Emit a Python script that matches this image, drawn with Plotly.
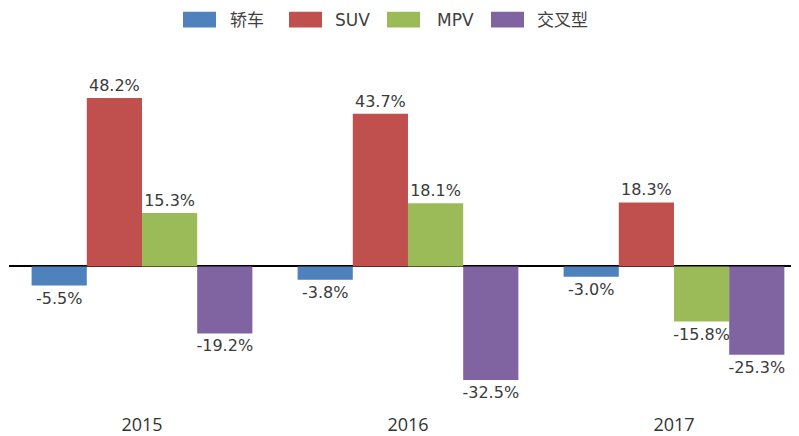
import plotly.graph_objects as go

years = ["2015", "2016", "2017"]
series_names = ["轿车", "SUV", "MPV", "交叉型"]
sedan = [-5.5, -3.8, -3.0]
suv = [48.2, 43.7, 18.3]
mpv = [15.3, 18.1, -15.8]
crossover = [-19.2, -32.5, -25.3]
colors = ["#4F81BD", "#C0504D", "#9BBB59", "#8064A2"]

# page body has an 8px margin; figure sized so that it fits the 799x436 window
W, H = 791, 428
ML, MR, MT, MB = 1, 0, 44, 18
PW, PH = W - ML - MR, H - MT - MB

def paper_x(sx):
    return (sx - 8 - ML) / PW

def paper_y(sy):
    return (H - MB + 8 - sy) / PH

fig = go.Figure()
for name, vals, col in zip(series_names, [sedan, suv, mpv, crossover], colors):
    fig.add_trace(go.Bar(
        x=years, y=vals, name=name, marker=dict(color=col, line=dict(width=0)),
        text=[f"{v:.1f}%" for v in vals], textposition="outside",
        textfont=dict(family="DejaVu Sans", size=16, color="#3a3a3a"),
        constraintext="none",
        cliponaxis=False, showlegend=False,
    ))

# legend drawn as swatches + text
legend_swatch_x = [183, 289, 387, 491]
legend_text_x = [228, 333, 435, 535]
shapes = []
annotations = []
for name, col, sx, tx in zip(series_names, colors, legend_swatch_x, legend_text_x):
    shapes.append(dict(type="rect", xref="paper", yref="paper",
                       x0=paper_x(sx), x1=paper_x(sx + 33), y0=paper_y(27), y1=paper_y(11),
                       fillcolor=col, line=dict(width=0)))
    annotations.append(dict(text=name, xref="paper", yref="paper", x=paper_x(tx), y=paper_y(19),
                            xanchor="left", yanchor="middle", showarrow=False,
                            font=dict(family="DejaVu Sans, Noto Sans CJK SC", size=17, color="#404040")))

fig.update_layout(
    width=W, height=H,
    margin=dict(l=ML, r=MR, t=MT, b=MB),
    paper_bgcolor="white", plot_bgcolor="white",
    barmode="group", bargap=0.17, bargroupgap=0,
    showlegend=False,
    shapes=shapes, annotations=annotations,
    xaxis=dict(type="category", range=[-0.5, 2.47], showgrid=False, showline=False,
               ticks="", tickfont=dict(family="Open Sans", size=18, color="#333333")),
    yaxis=dict(range=[-41.7, 61.4], showgrid=False, showticklabels=False,
               zeroline=True, zerolinecolor="black", zerolinewidth=1.5, showline=False),
)
fig.write_html("out.html")
